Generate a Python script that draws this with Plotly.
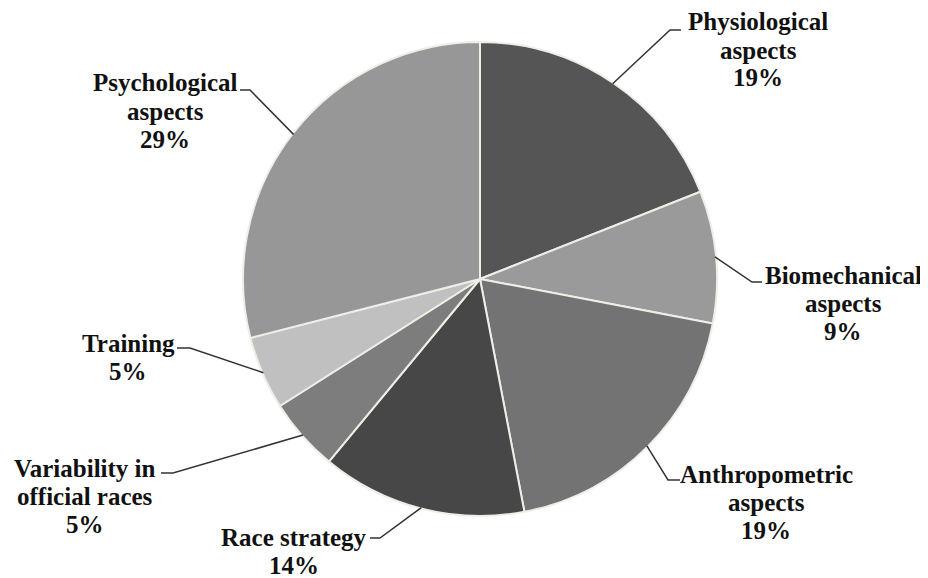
import math
import plotly.graph_objects as go

# ---- data ----
labels = ["Physiological aspects", "Biomechanical aspects", "Anthropometric aspects",
          "Race strategy", "Variability in official races", "Training", "Psychological aspects"]
label_lines = [["Physiological", "aspects"], ["Biomechanical", "aspects"], ["Anthropometric", "aspects"],
               ["Race strategy"], ["Variability in", "official races"], ["Training"],
               ["Psychological", "aspects"]]
values = [19, 9, 19, 14, 5, 5, 29]
colors = ["#555555", "#9a9a9a", "#737373", "#474747", "#7d7d7d", "#c0c0c0", "#979797"]

OFF = 8                      # page body margin
W, H = 928 - OFF, 578 - OFF  # figure size
CX, CY, R = 480, 279, 237    # pie centre / radius in screen pixels
LINE = 28                    # label line spacing (px)

# label layout (screen pixel: label centre x, first line centre y) and leader elbows
label_pos = [(758, 22), (843, 275), (766, 474), (294, 537), (85, 468), (128, 343), (165, 83)]
elbow = [((670, 30), (681, 30)), ((752, 282), (762, 282)), ((668, 480), (680, 480)),
         ((380, 538), (370, 538)), ((173, 473), (161, 473)), ((190, 348), (177, 348)),
         ((250, 90), (240, 90))]


def px(x, y):
    return (x - OFF) / W, 1 - (y - OFF) / H


fig = go.Figure()
dx0, dy1 = px(CX - R, CY - R)
dx1, dy0 = px(CX + R, CY + R)
fig.add_trace(go.Pie(
    labels=labels, values=values, sort=False, direction="clockwise", rotation=0,
    marker=dict(colors=colors, line=dict(color="#efeee6", width=2)),
    textinfo="none", hoverinfo="label+percent", showlegend=False,
    domain=dict(x=[dx0, dx1], y=[dy0, dy1]),
))

total = sum(values)
cum = 0
shapes = []
annotations = []
font = dict(family="Times New Roman, Liberation Serif, serif", size=25, color="#111111")
for i, v in enumerate(values):
    mid = (cum + v / 2) / total * 2 * math.pi
    cum += v
    sx = CX + (R - 1) * math.sin(mid)
    sy = CY - (R - 1) * math.cos(mid)
    (ex, ey), (hx, hy) = elbow[i]
    p = [px(sx, sy), px(ex, ey), px(hx, hy)]
    path = "M {} {} L {} {} L {} {}".format(p[0][0], p[0][1], p[1][0], p[1][1], p[2][0], p[2][1])
    shapes.append(dict(type="path", xref="paper", yref="paper", path=path,
                       line=dict(color="#333333", width=1.5)))
    lines = label_lines[i] + ["{}%".format(v)]
    cx, y0 = label_pos[i]
    for k, t in enumerate(lines):
        lx, ly = px(cx, y0 + k * LINE)
        annotations.append(dict(
            x=lx, y=ly, xref="paper", yref="paper", xanchor="center", yanchor="middle",
            text="<b>{}</b>".format(t), showarrow=False, align="center", font=font,
            borderpad=0,
        ))

fig.update_layout(
    width=W, height=H, margin=dict(l=0, r=0, t=0, b=0),
    paper_bgcolor="white", plot_bgcolor="white",
    shapes=shapes, annotations=annotations,
)

fig.write_html("out.html")
